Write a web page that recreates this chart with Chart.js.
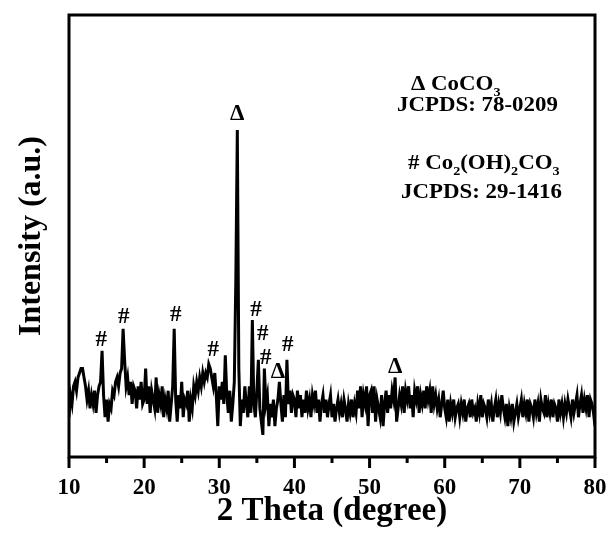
<!DOCTYPE html>
<html>
<head>
<meta charset="utf-8">
<script src="https://cdn.jsdelivr.net/npm/chart.js@4.4.1/dist/chart.umd.min.js"></script>
<style>
  html, body { margin: 0; padding: 0; background: #fff; }
  #wrap { width: 610px; height: 536px; }
</style>
</head>
<body>
<div id="wrap"><canvas id="xrd" width="610" height="536"></canvas></div>
<script>
// XRD pattern of the cobalt carbonate sample, 2 Theta 10-80 deg, step 0.2 deg

const thetaStart = 10;
const thetaStep = 0.2;

// intensity, one row = 2 degrees
const intensity = [
  9, 14, 12, 16, 17, 15, 18, 19, 20, 20,   // 10
  18, 16, 13, 15, 11, 14, 12, 15, 10, 14,  // 12
  16, 17, 24, 14, 9, 13, 8, 12, 11, 15,    // 14
  14, 17, 18, 16, 19, 20, 29, 22, 16, 18,  // 16
  14, 17, 12, 16, 15, 11, 16, 13, 17, 12,  // 18
  13, 20, 12, 16, 10, 15, 13, 11, 18, 10,  // 20
  14, 12, 16, 9, 13, 11, 15, 8, 12, 16,    // 22
  29, 13, 8, 14, 11, 17, 9, 13, 12, 15,    // 24
  8, 13, 11, 16, 14, 17, 15, 18, 16, 19,   // 26
  17, 19, 18, 21, 20, 18, 16, 19, 14, 7,   // 28
  16, 13, 17, 12, 23, 14, 10, 15, 8, 12,   // 30
  17, 40, 74, 20, 7, 13, 10, 16, 12, 9,    // 32
  16, 10, 31, 12, 9, 15, 22, 11, 8, 5,     // 34
  20, 12, 14, 7, 12, 9, 13, 7, 11, 13,     // 36
  17, 12, 8, 14, 9, 22, 12, 15, 10, 14,    // 38
  13, 9, 15, 11, 14, 9, 13, 10, 15, 11,    // 40
  13, 9, 14, 12, 15, 10, 13, 8, 12, 14,    // 42
  10, 13, 9, 12, 14, 9, 12, 8, 11, 13,     // 44
  10, 12, 9, 13, 11, 8, 12, 10, 13, 9,     // 46
  12, 10, 15, 11, 16, 9, 14, 12, 16, 7,    // 48
  14, 15, 10, 16, 8, 13, 11, 9, 14, 7,     // 50
  12, 15, 10, 14, 11, 15, 13, 18, 8, 11,   // 52
  14, 12, 16, 10, 15, 13, 16, 11, 14, 9,   // 54
  15, 13, 16, 10, 14, 12, 15, 11, 16, 13,  // 56
  15, 10, 16, 12, 14, 11, 13, 9, 12, 15,   // 58
  11, 9, 13, 8, 12, 10, 13, 9, 11, 12,     // 60
  9, 12, 10, 13, 8, 11, 12, 9, 13, 10,     // 62
  11, 8, 12, 10, 14, 9, 12, 11, 9, 13,     // 64
  10, 12, 8, 11, 13, 9, 12, 10, 14, 11,    // 66
  9, 12, 7, 11, 9, 12, 8, 10, 12, 9,       // 68
  11, 13, 9, 12, 10, 13, 8, 12, 11, 9,     // 70
  13, 10, 12, 8, 13, 11, 10, 14, 9, 12,    // 72
  10, 13, 9, 12, 11, 8, 13, 10, 12, 9,     // 74
  12, 10, 13, 11, 9, 13, 10, 12, 14, 9,    // 76
  12, 14, 10, 13, 11, 14, 9, 13, 12, 10,   // 78
  7                                        // 80
];

const majorTicks = [10, 20, 30, 40, 50, 60, 70, 80];
const minorTicks = [15, 25, 35, 45, 55, 65, 75];

// peak markers: # = Co2(OH)2CO3, Δ = CoCO3
const markTheta = [14.3, 17.3, 24.2, 29.2, 34.9, 35.8, 36.2, 37.8, 39.1, 32.4, 53.4];
const markVal = [26.5, 31.7, 32.1, 24.2, 33.3, 27.8, 22.4, 19.2, 25.3, 77.6, 20.4];
const markSym = ["#", "#", "#", "#", "#", "#", "#", "Δ", "#", "Δ", "Δ"];

// legend text, [text, isSubscript]
const legendCoCO3 = [["Δ CoCO", false], ["3", true]];
const legendCoCO3Card = [["JCPDS: 78-0209", false]];
const legendHydroxide = [["# Co", false], ["2", true], ["(OH)", false], ["2", true], ["CO", false], ["3", true]];
const legendHydroxideCard = [["JCPDS: 29-1416", false]];

const serif = "'Liberation Serif', 'Times New Roman', serif";

const points = intensity.map((v, i) => ({ x: +(thetaStart + i * thetaStep).toFixed(1), y: v }));

// draw text with subscripts, slightly stretched like the original
function drawRich(ctx, segs, x, y, size, sx) {
  ctx.save();
  ctx.translate(x, y);
  ctx.scale(sx, 1);
  ctx.textAlign = "left";
  ctx.textBaseline = "alphabetic";
  ctx.fillStyle = "#000";
  let cx = 0;
  segs.forEach(([t, sub]) => {
    const fs = sub ? Math.round(size * 0.62) : size;
    ctx.font = "bold " + fs + "px " + serif;
    ctx.fillText(t, cx, sub ? size * 0.28 : 0);
    cx += ctx.measureText(t).width;
  });
  ctx.restore();
}

const framePlugin = {
  id: "frame",
  afterDatasetsDraw(chart) {
    const { ctx, chartArea, scales } = chart;
    const { left, top, right, bottom } = chartArea;
    ctx.save();
    ctx.strokeStyle = "#000";
    ctx.lineWidth = 3;
    ctx.strokeRect(left, top, right - left, bottom - top);

    // tick marks below the x axis
    majorTicks.forEach((v) => {
      const px = scales.x.getPixelForValue(v);
      ctx.beginPath();
      ctx.moveTo(px, bottom);
      ctx.lineTo(px, bottom + 11);
      ctx.stroke();
    });
    minorTicks.forEach((v) => {
      const px = scales.x.getPixelForValue(v);
      ctx.beginPath();
      ctx.moveTo(px, bottom);
      ctx.lineTo(px, bottom + 6);
      ctx.stroke();
    });

    // peak markers
    ctx.fillStyle = "#000";
    ctx.font = "bold 23px " + serif;
    ctx.textAlign = "center";
    ctx.textBaseline = "middle";
    markSym.forEach((s, i) => {
      ctx.fillText(s, scales.x.getPixelForValue(markTheta[i]), scales.y.getPixelForValue(markVal[i]));
    });
    ctx.restore();

    // phase legend
    drawRich(ctx, legendCoCO3, 411, 90, 21, 1.09);
    drawRich(ctx, legendCoCO3Card, 397, 111, 21, 1.09);
    drawRich(ctx, legendHydroxide, 408, 169, 21, 1.09);
    drawRich(ctx, legendHydroxideCard, 401, 198, 21, 1.09);
  },
};

new Chart(document.getElementById("xrd"), {
  type: "line",
  data: {
    datasets: [
      {
        data: points,
        borderColor: "#000",
        borderWidth: 3,
        pointRadius: 0,
        tension: 0,
        fill: false,
      },
    ],
  },
  options: {
    responsive: false,
    animation: false,
    devicePixelRatio: 1,
    layout: { padding: { top: 15, right: 15, left: 0, bottom: 0 } },
    plugins: {
      legend: { display: false },
      tooltip: { enabled: false },
    },
    scales: {
      x: {
        type: "linear",
        min: 10,
        max: 80,
        afterFit: (s) => {
          s.height = 79;
          s.paddingLeft = 0;
          s.paddingRight = 0;
        },
        afterBuildTicks: (s) => { s.ticks = majorTicks.map((v) => ({ value: v })); },
        grid: { display: false, drawTicks: false },
        border: { display: false },
        ticks: {
          padding: 17,
          color: "#000",
          maxRotation: 0,
          autoSkip: false,
          font: { family: serif, size: 23, weight: "bold" },
        },
        title: {
          display: true,
          text: "2 Theta (degree)",
          color: "#000",
          font: { family: serif, size: 33, weight: "bold" },
          padding: { top: 0, bottom: 5 },
        },
      },
      y: {
        min: 0,
        max: 100,
        afterFit: (s) => { s.width = 69; },
        grid: { display: false, drawTicks: false },
        border: { display: false },
        ticks: { display: false },
        title: {
          display: true,
          text: "Intensity (a.u.)",
          color: "#000",
          font: { family: serif, size: 32, weight: "bold" },
          padding: { top: 13, bottom: 0 },
        },
      },
    },
  },
  plugins: [framePlugin],
});
</script>
</body>
</html>
